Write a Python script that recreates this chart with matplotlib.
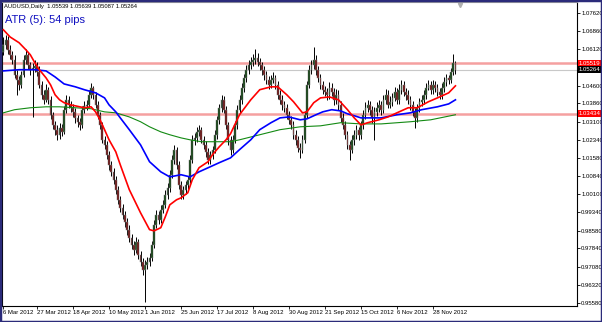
import numpy as np
import matplotlib.pyplot as plt
from matplotlib.patches import Rectangle
from matplotlib.transforms import blended_transform_factory

plt.rcParams['font.family'] = ['Liberation Sans', 'DejaVu Sans']

# AUDUSD daily, 6 Mar 2012 .. 11 Dec 2012 (bar index on x)
opens = [1.0600, 1.0629, 1.0650, 1.0609, 1.0588, 1.0567, 1.0505, 1.0484, 1.0463, 1.0505,
         1.0567, 1.0588, 1.0546, 1.0526, 1.0534, 1.0542, 1.0517, 1.0463, 1.0422, 1.0401,
         1.0443, 1.0401, 1.0339, 1.0297, 1.0277, 1.0256, 1.0285, 1.0268, 1.0360, 1.0401,
         1.0380, 1.0368, 1.0351, 1.0326, 1.0310, 1.0297, 1.0360, 1.0376, 1.0380, 1.0422,
         1.0451, 1.0422, 1.0380, 1.0339, 1.0297, 1.0235, 1.0214, 1.0173, 1.0131, 1.0102,
         1.0069, 1.0028, 0.9986, 0.9953, 0.9924, 0.9895, 0.9862, 0.9828, 0.9799, 0.9779,
         0.9812, 0.9758, 0.9729, 0.9696, 0.9716, 0.9729, 0.9745, 0.9799, 0.9882, 0.9924,
         0.9903, 0.9945, 0.9965, 1.0007, 1.0036, 1.0090, 1.0152, 1.0194, 1.0131, 1.0048,
         1.0007, 1.0028, 1.0048, 1.0069, 1.0152, 1.0235, 1.0243, 1.0268, 1.0277, 1.0235,
         1.0214, 1.0185, 1.0152, 1.0173, 1.0194, 1.0256, 1.0318, 1.0368, 1.0401, 1.0360,
         1.0297, 1.0235, 1.0194, 1.0235, 1.0297, 1.0360, 1.0401, 1.0451, 1.0492, 1.0526,
         1.0546, 1.0559, 1.0567, 1.0575, 1.0559, 1.0546, 1.0526, 1.0505, 1.0484, 1.0463,
         1.0484, 1.0492, 1.0463, 1.0422, 1.0401, 1.0380, 1.0368, 1.0339, 1.0318, 1.0297,
         1.0256, 1.0235, 1.0202, 1.0194, 1.0235, 1.0339, 1.0463, 1.0526, 1.0546, 1.0567,
         1.0526, 1.0492, 1.0463, 1.0443, 1.0434, 1.0422, 1.0451, 1.0434, 1.0401, 1.0422,
         1.0380, 1.0326, 1.0297, 1.0256, 1.0214, 1.0194, 1.0235, 1.0256, 1.0277, 1.0256,
         1.0297, 1.0339, 1.0368, 1.0380, 1.0360, 1.0326, 1.0351, 1.0368, 1.0380, 1.0360,
         1.0401, 1.0422, 1.0380, 1.0393, 1.0409, 1.0434, 1.0401, 1.0443, 1.0463, 1.0434,
         1.0422, 1.0401, 1.0380, 1.0351, 1.0326, 1.0368, 1.0393, 1.0401, 1.0422, 1.0451,
         1.0463, 1.0443, 1.0463, 1.0451, 1.0434, 1.0422, 1.0451, 1.0476, 1.0492, 1.0484,
         1.0517, 1.05539]
highs = [1.0660, 1.0672, 1.0668, 1.0630, 1.0605, 1.0585, 1.0525, 1.0500, 1.0520, 1.0585,
         1.0610, 1.0600, 1.0560, 1.0555, 1.0565, 1.0560, 1.0540, 1.0480, 1.0440, 1.0465,
         1.0455, 1.0415, 1.0350, 1.0315, 1.0295, 1.0305, 1.0300, 1.0375, 1.0420, 1.0415,
         1.0395, 1.0385, 1.0365, 1.0340, 1.0325, 1.0375, 1.0395, 1.0400, 1.0440, 1.0470,
         1.0460, 1.0435, 1.0395, 1.0350, 1.0310, 1.0250, 1.0230, 1.0190, 1.0145, 1.0120,
         1.0085, 1.0045, 1.0000, 0.9970, 0.9940, 0.9910, 0.9880, 0.9845, 0.9815, 0.9830,
         0.9825, 0.9775, 0.9745, 0.9735, 0.9750, 0.9765, 0.9815, 0.9900, 0.9945, 0.9940,
         0.9965, 0.9985, 1.0025, 1.0055, 1.0110, 1.0170, 1.0215, 1.0205, 1.0145, 1.0065,
         1.0045, 1.0065, 1.0085, 1.0170, 1.0255, 1.0265, 1.0290, 1.0295, 1.0290, 1.0250,
         1.0230, 1.0200, 1.0190, 1.0210, 1.0275, 1.0335, 1.0385, 1.0420, 1.0415, 1.0375,
         1.0310, 1.0250, 1.0255, 1.0315, 1.0380, 1.0420, 1.0470, 1.0510, 1.0545, 1.0565,
         1.0580, 1.0590, 1.0610, 1.0595, 1.0575, 1.0560, 1.0540, 1.0520, 1.0500, 1.0505,
         1.0515, 1.0505, 1.0480, 1.0440, 1.0420, 1.0395, 1.0385, 1.0355, 1.0335, 1.0315,
         1.0275, 1.0250, 1.0220, 1.0255, 1.0355, 1.0480, 1.0545, 1.0565, 1.0620, 1.0585,
         1.0540, 1.0510, 1.0480, 1.0460, 1.0450, 1.0475, 1.0470, 1.0450, 1.0445, 1.0440,
         1.0395, 1.0345, 1.0315, 1.0270, 1.0230, 1.0255, 1.0275, 1.0295, 1.0290, 1.0315,
         1.0360, 1.0390, 1.0400, 1.0395, 1.0375, 1.0370, 1.0390, 1.0400, 1.0395, 1.0420,
         1.0445, 1.0440, 1.0415, 1.0430, 1.0455, 1.0450, 1.0465, 1.0485, 1.0480, 1.0450,
         1.0440, 1.0415, 1.0395, 1.0365, 1.0385, 1.0410, 1.0420, 1.0440, 1.0470, 1.0485,
         1.0480, 1.0485, 1.0480, 1.0465, 1.0450, 1.0470, 1.0495, 1.0510, 1.0505, 1.0535,
         1.0590, 1.05639]
lows = [1.0585, 1.0610, 1.0590, 1.0570, 1.0548, 1.0490, 1.0420, 1.0440, 1.0450, 1.0495,
        1.0550, 1.0530, 1.0505, 1.0330, 1.0515, 1.0500, 1.0450, 1.0405, 1.0385, 1.0390,
        1.0385, 1.0320, 1.0280, 1.0255, 1.0235, 1.0240, 1.0250, 1.0260, 1.0345, 1.0365,
        1.0350, 1.0330, 1.0305, 1.0290, 1.0275, 1.0285, 1.0345, 1.0360, 1.0370, 1.0410,
        1.0405, 1.0365, 1.0320, 1.0280, 1.0220, 1.0195, 1.0155, 1.0110, 1.0085, 1.0050,
        1.0010, 0.9970, 0.9935, 0.9905, 0.9875, 0.9840, 0.9810, 0.9780, 0.9755, 0.9765,
        0.9740, 0.9710, 0.9675, 0.9560, 0.9700, 0.9710, 0.9730, 0.9785, 0.9870, 0.9885,
        0.9890, 0.9930, 0.9950, 0.9990, 1.0020, 1.0075, 1.0135, 1.0115, 1.0030, 0.9990,
        0.9990, 1.0010, 1.0030, 1.0055, 1.0140, 1.0215, 1.0225, 1.0250, 1.0220, 1.0195,
        1.0165, 1.0135, 1.0135, 1.0155, 1.0180, 1.0240, 1.0300, 1.0350, 1.0345, 1.0280,
        1.0215, 1.0170, 1.0180, 1.0220, 1.0280, 1.0345, 1.0385, 1.0435, 1.0475, 1.0510,
        1.0530, 1.0540, 1.0550, 1.0540, 1.0525, 1.0505, 1.0485, 1.0465, 1.0445, 1.0450,
        1.0470, 1.0445, 1.0405, 1.0385, 1.0360, 1.0350, 1.0320, 1.0300, 1.0280, 1.0240,
        1.0215, 1.0185, 1.0160, 1.0180, 1.0220, 1.0325, 1.0450, 1.0510, 1.0530, 1.0505,
        1.0475, 1.0445, 1.0425, 1.0415, 1.0400, 1.0405, 1.0415, 1.0380, 1.0385, 1.0360,
        1.0310, 1.0280, 1.0240, 1.0195, 1.0150, 1.0180, 1.0215, 1.0240, 1.0235, 1.0240,
        1.0280, 1.0320, 1.0350, 1.0340, 1.0305, 1.0235, 1.0335, 1.0350, 1.0340, 1.0345,
        1.0385, 1.0365, 1.0365, 1.0375, 1.0395, 1.0385, 1.0385, 1.0425, 1.0415, 1.0400,
        1.0385, 1.0360, 1.0335, 1.0285, 1.0310, 1.0350, 1.0375, 1.0385, 1.0405, 1.0440,
        1.0425, 1.0425, 1.0435, 1.0415, 1.0405, 1.0405, 1.0435, 1.0460, 1.0465, 1.0470,
        1.0505, 1.05087]
closes = [1.0629, 1.0650, 1.0609, 1.0588, 1.0567, 1.0505, 1.0484, 1.0463, 1.0505, 1.0567,
          1.0588, 1.0546, 1.0526, 1.0534, 1.0542, 1.0517, 1.0463, 1.0422, 1.0401, 1.0443,
          1.0401, 1.0339, 1.0297, 1.0277, 1.0256, 1.0285, 1.0268, 1.0360, 1.0401, 1.0380,
          1.0368, 1.0351, 1.0326, 1.0310, 1.0297, 1.0360, 1.0376, 1.0380, 1.0422, 1.0451,
          1.0422, 1.0380, 1.0339, 1.0297, 1.0235, 1.0214, 1.0173, 1.0131, 1.0102, 1.0069,
          1.0028, 0.9986, 0.9953, 0.9924, 0.9895, 0.9862, 0.9828, 0.9799, 0.9779, 0.9812,
          0.9758, 0.9729, 0.9696, 0.9716, 0.9729, 0.9745, 0.9799, 0.9882, 0.9924, 0.9903,
          0.9945, 0.9965, 1.0007, 1.0036, 1.0090, 1.0152, 1.0194, 1.0131, 1.0048, 1.0007,
          1.0028, 1.0048, 1.0069, 1.0152, 1.0235, 1.0243, 1.0268, 1.0277, 1.0235, 1.0214,
          1.0185, 1.0152, 1.0173, 1.0194, 1.0256, 1.0318, 1.0368, 1.0401, 1.0360, 1.0297,
          1.0235, 1.0194, 1.0235, 1.0297, 1.0360, 1.0401, 1.0451, 1.0492, 1.0526, 1.0546,
          1.0559, 1.0567, 1.0575, 1.0559, 1.0546, 1.0526, 1.0505, 1.0484, 1.0463, 1.0484,
          1.0492, 1.0463, 1.0422, 1.0401, 1.0380, 1.0368, 1.0339, 1.0318, 1.0297, 1.0256,
          1.0235, 1.0202, 1.0194, 1.0235, 1.0339, 1.0463, 1.0526, 1.0546, 1.0567, 1.0526,
          1.0492, 1.0463, 1.0443, 1.0434, 1.0422, 1.0451, 1.0434, 1.0401, 1.0422, 1.0380,
          1.0326, 1.0297, 1.0256, 1.0214, 1.0194, 1.0235, 1.0256, 1.0277, 1.0256, 1.0297,
          1.0339, 1.0368, 1.0380, 1.0360, 1.0326, 1.0351, 1.0368, 1.0380, 1.0360, 1.0401,
          1.0422, 1.0380, 1.0393, 1.0409, 1.0434, 1.0401, 1.0443, 1.0463, 1.0434, 1.0422,
          1.0401, 1.0380, 1.0351, 1.0326, 1.0368, 1.0393, 1.0401, 1.0422, 1.0451, 1.0463,
          1.0443, 1.0463, 1.0451, 1.0434, 1.0422, 1.0451, 1.0476, 1.0492, 1.0484, 1.0517,
          1.05539, 1.05264]

# moving averages (bar index, price)
red_idx = [0, 3, 7, 10, 12, 14, 16, 19, 21, 23, 25, 27, 30, 32, 34, 36, 39, 41, 43, 45,
           47, 50, 52, 56, 61, 65, 67, 70, 72, 74, 77, 79, 82, 84, 87, 91, 93, 96, 99, 101,
           105, 110, 114, 119, 122, 126, 129, 133, 135, 138, 141, 145, 149, 153, 156, 159,
           162, 167, 171, 175, 180, 184, 189, 193, 198, 201]
red_ma = [1.0692, 1.0662, 1.0638, 1.0609, 1.0588, 1.0555, 1.0526, 1.0492, 1.0463, 1.0422,
          1.0401, 1.0389, 1.0380, 1.0376, 1.0372, 1.0368, 1.0372, 1.0351, 1.0318, 1.0277,
          1.0235, 1.0185, 1.0131, 1.0028, 0.9932, 0.9862, 0.9857, 0.9870, 0.9915, 0.9965,
          0.9986, 0.9994, 1.0015, 1.0069, 1.0119, 1.0144, 1.0173, 1.0206, 1.0235, 1.0260,
          1.0339, 1.0401, 1.0443, 1.0455, 1.0455, 1.0422, 1.0393, 1.0347, 1.0351, 1.0389,
          1.0409, 1.0413, 1.0401, 1.0360, 1.0326, 1.0297, 1.0306, 1.0318, 1.0330, 1.0347,
          1.0368, 1.0368, 1.0393, 1.0409, 1.0430, 1.0459]
blue_idx = [0, 7, 14, 19, 23, 27, 32, 36, 41, 45, 47, 50, 52, 56, 61, 65, 70, 74, 79, 83,
            87, 92, 96, 101, 105, 110, 114, 119, 123, 127, 132, 135, 139, 142, 146, 150,
            153, 156, 159, 168, 175, 181, 186, 193, 198, 201]
blue_ma = [1.0521, 1.0526, 1.0526, 1.0521, 1.0496, 1.0467, 1.0455, 1.0443, 1.0430, 1.0409,
           1.0380, 1.0351, 1.0326, 1.0277, 1.0214, 1.0144, 1.0102, 1.0081, 1.0090, 1.0081,
           1.0102, 1.0123, 1.0140, 1.0160, 1.0194, 1.0235, 1.0277, 1.0306, 1.0326, 1.0330,
           1.0318, 1.0322, 1.0339, 1.0351, 1.0360, 1.0355, 1.0343, 1.0335, 1.0326, 1.0326,
           1.0339, 1.0347, 1.0360, 1.0372, 1.0384, 1.0401]
green_idx = [0, 5, 12, 19, 25, 32, 39, 45, 50, 56, 61, 65, 70, 74, 79, 83, 88, 96, 101, 105,
             114, 123, 132, 141, 150, 159, 168, 181, 190, 201]
green_ma = [1.0347, 1.0360, 1.0368, 1.0372, 1.0372, 1.0368, 1.0364, 1.0351, 1.0347, 1.0330,
            1.0310, 1.0289, 1.0268, 1.0256, 1.0243, 1.0235, 1.0227, 1.0227, 1.0227, 1.0235,
            1.0256, 1.0277, 1.0289, 1.0293, 1.0306, 1.0301, 1.0301, 1.0310, 1.0318, 1.0339]

date_idx = [0, 15, 31, 47, 63, 79, 95, 111, 127, 143, 159, 175, 191]
date_labels = ["6 Mar 2012", "27 Mar 2012", "18 Apr 2012", "10 May 2012", "1 Jun 2012",
               "25 Jun 2012", "17 Jul 2012", "8 Aug 2012", "30 Aug 2012", "21 Sep 2012",
               "15 Oct 2012", "6 Nov 2012", "28 Nov 2012"]
price_ticks = [1.07620, 1.06860, 1.06120, 1.04600, 1.03860, 1.03100, 1.02340, 1.01580,
               1.00840, 1.00100, 0.99340, 0.98580, 0.97840, 0.97080, 0.96320, 0.95580]
resist = 1.05519
support = 1.03434
bid = 1.05264

o = np.array(opens)
h = np.array(highs)
l = np.array(lows)
c = np.array(closes)
x = np.arange(len(c))

fig = plt.figure(figsize=(6.02, 3.22), dpi=100)
ax = fig.add_axes([0.0033, 0.0497, 0.955, 0.944])

# level lines
ax.axhline(resist, color='#f5a0a0', lw=1.8, zorder=1)
ax.axhline(support, color='#f5a0a0', lw=1.8, zorder=1)
ax.axhline(bid, color='#c8c8c8', lw=0.8, zorder=1)

# candles
ax.vlines(x, l, h, color='black', lw=0.7, zorder=2)
up = c >= o
body_lo = np.minimum(o, c)
body_h = np.maximum(np.abs(c - o), 0.00015)
ax.bar(x[up], body_h[up], bottom=body_lo[up], width=0.8, color='#0b3d0b',
       edgecolor='#7a7a7a', linewidth=0.35, zorder=3)
ax.bar(x[~up], body_h[~up], bottom=body_lo[~up], width=0.8, color='#6b0a0a',
       edgecolor='#7a7a7a', linewidth=0.35, zorder=3)

# moving averages
ax.plot(green_idx, green_ma, color='#138a13', lw=0.8, zorder=4)
ax.plot(blue_idx, blue_ma, color='#0000ff', lw=1.2, zorder=4)
ax.plot(red_idx, red_ma, color='#ff0000', lw=1.2, zorder=4)

ax.set_xlim(-0.6, 255)
ax.set_ylim(0.9545, 1.0807)

ax.yaxis.tick_right()
ax.set_yticks(price_ticks)
ax.set_yticklabels(['%.5f' % v for v in price_ticks])
ax.set_xticks(date_idx)
ax.set_xticklabels(date_labels)
plt.setp(ax.get_xticklabels(), ha='left')
ax.tick_params(axis='both', labelsize=4.3, length=2, width=0.6, pad=1, colors='black')

for s in ['left', 'right', 'bottom']:
    ax.spines[s].set_color('black')
    ax.spines[s].set_linewidth(0.8)
ax.spines['top'].set_color('#a0a0a0')
ax.spines['top'].set_linewidth(0.8)

# price labels on the right scale
trans = blended_transform_factory(ax.transAxes, ax.transData)
for val, bg in [(resist, '#ff0000'), (bid, '#000000'), (support, '#ff0000')]:
    ax.text(1.003, val, '%.5f' % val, transform=trans, fontsize=4.3, color='white',
            va='center', ha='left', clip_on=False, zorder=6,
            bbox=dict(boxstyle='square,pad=0.12', facecolor=bg, edgecolor='none'))

# chart-shift marker
ax.plot([203], [1.0795], marker='v', color='#b0b0b0', markersize=3, clip_on=False)

ax.text(0.004, 0.992, 'AUDUSD,Daily  1.05539 1.05639 1.05087 1.05264', transform=ax.transAxes,
        fontsize=4.2, va='top', ha='left', color='black')
ax.text(0.005, 0.958, 'ATR (5): 54 pips', transform=ax.transAxes, fontsize=8,
        va='top', ha='left', color='#1010c0')

fig.patches.append(Rectangle((0, 0), 1, 1, transform=fig.transFigure, fill=False,
                             edgecolor='#2b2b7a', linewidth=2.5))

fig.savefig('out.png', dpi=100)
